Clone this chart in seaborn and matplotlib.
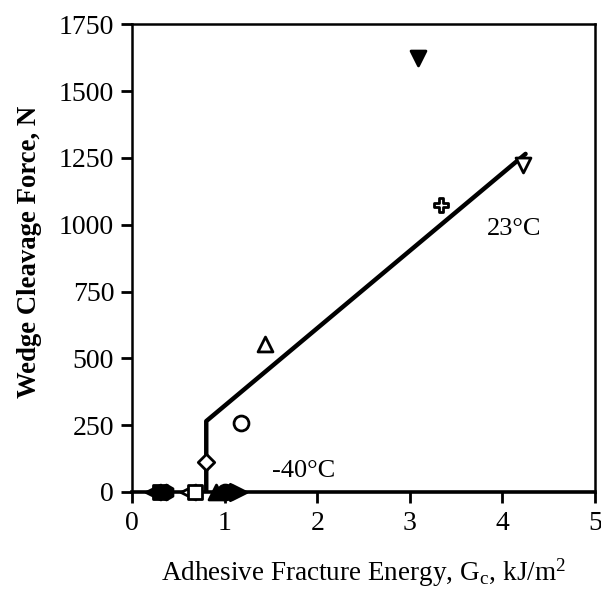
import matplotlib
matplotlib.use("Agg")
import matplotlib.pyplot as plt
import seaborn as sns
import pandas as pd

sns.set_theme(style="ticks")
plt.rcParams["font.family"] = ["Liberation Serif", "DejaVu Serif"]
plt.rcParams["mathtext.fontset"] = "stix"
plt.rcParams["text.color"] = "black"
plt.rcParams["axes.labelcolor"] = "black"
plt.rcParams["xtick.labelcolor"] = "black"
plt.rcParams["ytick.labelcolor"] = "black"

# Measured specimens: fracture energy (kJ/m^2), wedge force (N), marker, filled?
gc_values = [3.09, 4.22, 3.34, 1.44, 1.17, 0.80,
             0.22, 0.30, 0.37, 0.60, 0.68, 0.90, 1.00, 1.06, 1.15]
force_values = [1622, 1225, 1075, 554, 258, 112,
                0, 0, 0, 0, 0, 0, 0, 0, 0]
marker_styles = ["v", "v", "P", "^", "o", "D",
                 "<", "s", "h", "<", "s", "^", "o", "D", ">"]
filled_flags = [True, False, False, False, False, False,
                True, True, True, False, False, True, True, True, True]

# Fitted trend: brittle threshold then linear rise
trend_gc = [0.80, 0.80, 4.25]
trend_force = [0, 265, 1265]

x_ticks = [0, 1, 2, 3, 4, 5]
y_ticks = [0, 250, 500, 750, 1000, 1250, 1500, 1750]

fig = plt.figure(figsize=(6.01, 5.92), dpi=100)
ax = fig.add_axes([0.220, 0.169, 0.770, 0.790])

trend = pd.DataFrame({"gc": trend_gc, "force": trend_force})
sns.lineplot(data=trend, x="gc", y="force", sort=False, estimator=None,
             color="black", linewidth=3.2, ax=ax)

points = pd.DataFrame({"gc": gc_values, "force": force_values,
                       "marker": marker_styles, "filled": filled_flags})
sizes = {"D": 70}
for (mk, filled), grp in points.groupby(["marker", "filled"]):
    sns.scatterplot(data=grp, x="gc", y="force", marker=mk,
                    s=sizes.get(mk, 115),
                    color="black" if filled else "white",
                    edgecolor="black", linewidth=2.0,
                    clip_on=False, zorder=5, ax=ax)

ax.text(4.13, 985, "23°C", fontsize=19, ha="center", va="center")
ax.text(1.85, 78, "-40°C", fontsize=19, ha="center", va="center")

ax.set_xlim(0, 5)
ax.set_ylim(0, 1750)
ax.set_xticks(x_ticks)
ax.set_yticks(y_ticks)
ax.tick_params(axis="both", labelsize=20, length=8, width=2,
               direction="out", color="black")
ax.tick_params(axis="x", pad=6)
ax.tick_params(axis="y", pad=5)
for side in ["left", "right", "top", "bottom"]:
    ax.spines[side].set_visible(True)
    ax.spines[side].set_linewidth(1.8)
    ax.spines[side].set_color("black")
ax.spines["bottom"].set_linewidth(2.6)

ax.set_xlabel("Adhesive Fracture Energy, G$_\\mathregular{c}$, kJ/m$^\\mathregular{2}$",
              fontsize=19.5)
ax.set_ylabel("Wedge Cleavage Force, N", fontsize=19.3, fontweight="bold")
ax.xaxis.set_label_coords(0.5, -0.138)
ax.yaxis.set_label_coords(-0.196, 0.513)

fig.savefig("out.png", dpi=100)
